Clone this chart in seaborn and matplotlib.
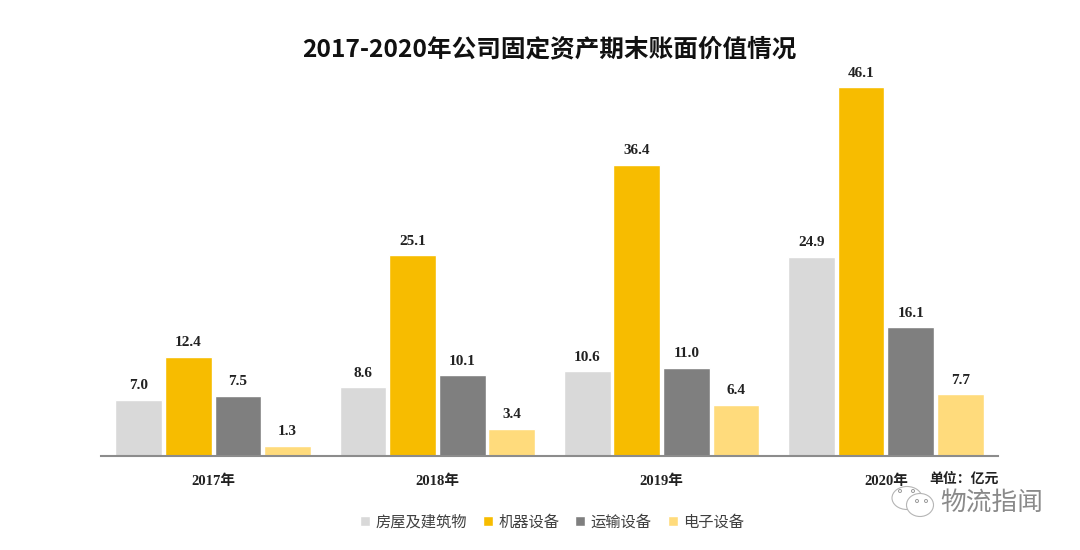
import matplotlib
matplotlib.use('Agg')
import matplotlib.pyplot as plt
from matplotlib.patches import Ellipse
import pandas as pd
import seaborn as sns

years = ['2017年', '2018年', '2019年', '2020年']
building = [7.0, 8.6, 10.6, 24.9]
machine = [12.4, 25.1, 36.4, 46.1]
transport = [7.5, 10.1, 11.0, 16.1]
electronic = [1.3, 3.4, 6.4, 7.7]
series_names = ['房屋及建筑物', '机器设备', '运输设备', '电子设备']
colors = ['#d9d9d9', '#f7bc00', '#7f7f7f', '#ffdb7c']

df = pd.DataFrame({'year': years, series_names[0]: building, series_names[1]: machine,
                   series_names[2]: transport, series_names[3]: electronic})
df = df.melt(id_vars='year', var_name='kind', value_name='value')

sns.set_theme(style='white')
cjk = ['Noto Sans CJK SC', 'DejaVu Sans']
serif = ['Liberation Serif', 'Noto Sans CJK SC']
plt.rcParams['font.family'] = cjk

fig = plt.figure(figsize=(10.8, 5.5), dpi=100)
ax = fig.add_axes([101 / 1080, 1 - 456 / 550, 897 / 1080, 396 / 550])

sns.barplot(data=df, x='year', y='value', hue='kind', palette=colors, width=0.885,
            gap=0.06, saturation=1, ax=ax)

for bars in ax.containers:
    ax.bar_label(bars, fmt='%.1f', padding=5.5, fontsize=11, fontweight='bold',
                 family=serif, color='#222222')

ax.set_xlim(-0.5, 3.5)
ax.set_ylim(0, 396 / 8.0)
ax.set_xlabel('')
ax.set_ylabel('')
ax.set_yticks([])
for side in ['top', 'right', 'left']:
    ax.spines[side].set_visible(False)
ax.spines['bottom'].set_color('#8c8c8c')
ax.spines['bottom'].set_linewidth(1.5)
ax.tick_params(axis='x', length=0, pad=13)
for label in ax.get_xticklabels():
    label.set_fontfamily(serif)
    label.set_fontsize(10.5)
    label.set_fontweight('bold')
    label.set_color('#222222')

ax.legend(loc='lower center', bbox_to_anchor=(552 / 1080, 6 / 550), bbox_transform=fig.transFigure,
          ncol=4, frameon=False, fontsize=11, handlelength=0.65, handleheight=0.65,
          handletextpad=0.35, columnspacing=1.05, labelcolor='#404040')

fig.text(549 / 1080, 1 - 49 / 550, '2017-2020年公司固定资产期末账面价值情况', ha='center', va='center',
         fontsize=17.7, fontweight='bold', color='#111111')
fig.text(964 / 1080, 1 - 479 / 550, '单位：亿元', ha='center', va='center', fontsize=10,
         fontweight='bold', color='#222222')
fig.text(992 / 1080, 1 - 503 / 550, '物流指闻', ha='center', va='center', fontsize=18.5,
         color='#8a8a8a')

# wechat logo next to the watermark
for cx, cy, w, h in [(907, 498, 30, 23), (920, 505, 27, 23)]:
    fig.add_artist(Ellipse((cx / 1080, 1 - cy / 550), w / 1080, h / 550, transform=fig.transFigure,
                           facecolor='white', edgecolor='#b5b5b5', linewidth=0.8))
for cx, cy in [(900, 491), (913, 491), (917, 501), (926, 501)]:
    fig.add_artist(Ellipse((cx / 1080, 1 - cy / 550), 3 / 1080, 3 / 550, transform=fig.transFigure,
                           facecolor='white', edgecolor='#999999', linewidth=0.7))

fig.savefig('out.png', dpi=100, facecolor='white')
